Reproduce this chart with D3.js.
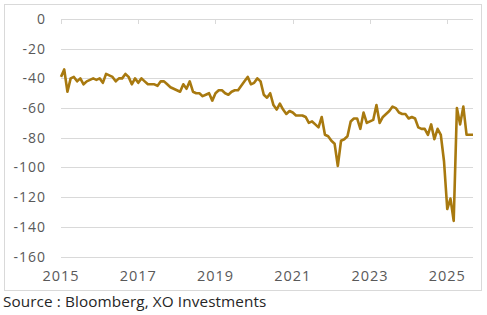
<!DOCTYPE html>
<meta charset="utf-8">
<script src="https://d3js.org/d3.v7.min.js"></script>
<style>
  body { margin: 0; background: #fff; }
  text { font-family: "Open Sans", sans-serif; }
</style>
<div id="chart"></div>
<script>
    // monthly values, Jan 2015 -> Sep 2025
    var startYear = 2015;
    var values = [
        -39, -34, -49, -40, -39, -42, -40, -44, -42, -41,
        -40, -41, -40, -43, -37, -38, -39, -42, -40, -40,
        -37, -39, -44, -40, -43, -40, -42, -44, -44, -44,
        -45, -42, -42, -44, -46, -47, -48, -49, -44, -47,
        -42, -49, -50, -50, -52, -51, -50, -55, -50, -48,
        -48, -50, -51, -49, -48, -48, -45, -42, -39, -44,
        -43, -40, -42, -51, -53, -50, -58, -61, -57, -61,
        -64, -62, -63, -65, -65, -65, -66, -70, -69, -71,
        -73, -66, -78, -79, -82, -84, -99, -82, -81, -79,
        -69, -67, -67, -74, -63, -70, -69, -68, -58, -70,
        -66, -64, -62, -59, -60, -63, -64, -64, -67, -66,
        -67, -73, -74, -74, -78, -71, -81, -74, -78, -96,
        -128, -121, -136, -60, -71, -59, -78, -78, -78
    ];
    var months = values.map(function(v, i) { return startYear + i / 12; });
    var xTicks = [2015, 2017, 2019, 2021, 2023, 2025];
    var yTicks = [0, -20, -40, -60, -80, -100, -120, -140, -160];

    var W = 487, H = 315;
    var svg = d3.select("#chart").append("svg")
        .attr("width", W)
        .attr("height", H);

    // outer frame
    svg.append("rect")
        .attr("x", 4.5).attr("y", 4.5)
        .attr("width", 477).attr("height", 286)
        .attr("fill", "none")
        .attr("stroke", "#d9d9d9");

    var x = d3.scaleLinear()
        .domain([startYear, months[months.length - 1]])
        .range([61, 473]);
    var y = d3.scaleLinear()
        .domain([-160, 0])
        .range([256.5, 19]);

    // horizontal gridlines
    svg.append("g").selectAll("line")
        .data(yTicks)
        .enter().append("line")
        .attr("x1", 61).attr("x2", 473)
        .attr("y1", function(d) { return Math.round(y(d)) + 0.5; })
        .attr("y2", function(d) { return Math.round(y(d)) + 0.5; })
        .attr("stroke", "#d9d9d9");

    // y labels
    svg.append("g").selectAll("text")
        .data(yTicks)
        .enter().append("text")
        .attr("x", 46)
        .attr("y", function(d) { return y(d) + 5; })
        .attr("text-anchor", "end")
        .attr("font-size", 14)
        .attr("letter-spacing", 1)
        .attr("fill", "#595959")
        .text(function(d) { return d; });

    // year tick marks on the zero line
    svg.append("g").selectAll("line")
        .data(xTicks)
        .enter().append("line")
        .attr("x1", function(d) { return Math.round(x(d)) + 0.5; })
        .attr("x2", function(d) { return Math.round(x(d)) + 0.5; })
        .attr("y1", Math.round(y(0)))
        .attr("y2", Math.round(y(0)) + 5)
        .attr("stroke", "#d9d9d9");

    // year labels
    svg.append("g").selectAll("text")
        .data(xTicks)
        .enter().append("text")
        .attr("x", function(d) { return x(d); })
        .attr("y", 281)
        .attr("text-anchor", "middle")
        .attr("font-size", 14.5)
        .attr("letter-spacing", 1)
        .attr("fill", "#595959")
        .text(function(d) { return d; });

    // the line
    var line = d3.line()
        .x(function(d, i) { return x(months[i]); })
        .y(function(d) { return y(d); });
    svg.append("path")
        .datum(values)
        .attr("d", line)
        .attr("fill", "none")
        .attr("stroke", "#a8790f")
        .attr("stroke-width", 2.6)
        .attr("stroke-linejoin", "round");

    // source
    svg.append("text")
        .attr("x", 3)
        .attr("y", 307)
        .attr("font-size", 15.3)
        .attr("letter-spacing", 0.1)
        .attr("fill", "#262626")
        .text("Source : Bloomberg, XO Investments");
</script>
